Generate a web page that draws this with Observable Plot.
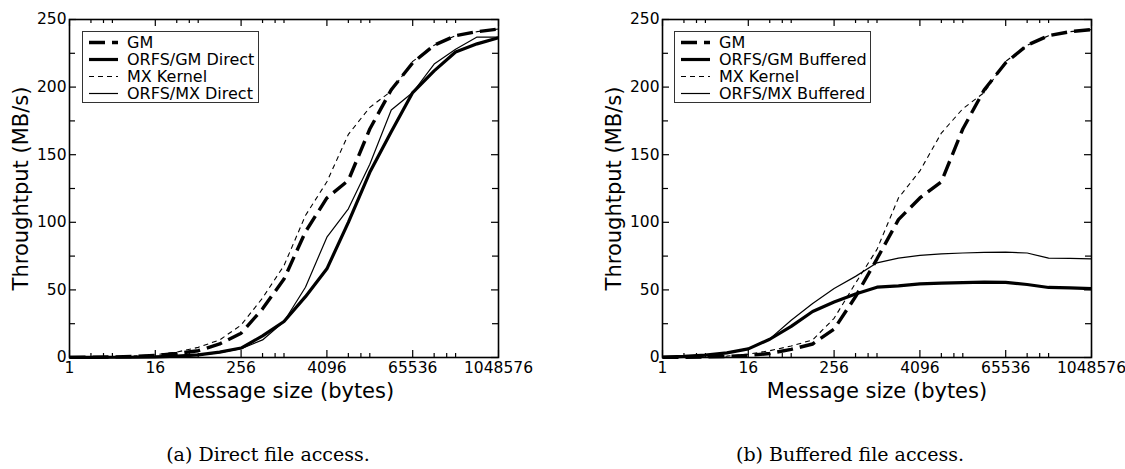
<!DOCTYPE html>
<html><head><meta charset="utf-8">
<script src="https://cdn.jsdelivr.net/npm/d3@7"></script>
<script src="https://cdn.jsdelivr.net/npm/@observablehq/plot@0.6"></script>
<style>
html,body{margin:0;padding:0;background:#fff;}
#root{position:relative;width:1125px;height:469px;overflow:hidden;background:#fff;}
.panel{position:absolute;top:0;}
.legend{position:absolute;box-sizing:border-box;border:1.4px solid #333;background:#fff;}
.caption{position:absolute;font-family:"DejaVu Serif";font-size:19px;top:443px;transform:translateX(-50%);white-space:nowrap;color:#000;}
svg g[aria-label="x-axis label"] text, svg g[aria-label="y-axis label"] text{font-size:21px;}
</style>
</head><body>
<div id="root"></div>
<script>
// ---- data ----
const sizes = [1,2,4,8,16,32,64,128,256,512,1024,2048,4096,8192,16384,32768,65536,131072,262144,524288,1048576];
const xTickValues = [1,16,256,4096,65536,1048576];
const yTickValues = [0,50,100,150,200,250];

// (a) Direct file access
const gmA      = [0.1,0.2,0.4,0.8,1.5,3,5,10,18,36,58,93,118,131,169,198,218,231,238,241,243];
const orfsGmA  = [0.1,0.1,0.2,0.3,0.5,1,2,4,7,16,26.6,45,65.6,100,137,167,196,212,226,232,236.5];
const mxA      = [0.1,0.3,0.6,1,2,4,7.5,13,24,44,68,105,130,165,185,197,219,231,238,241,243];
const orfsMxA  = [0.1,0.1,0.2,0.3,0.5,0.9,1.8,3.5,6.5,13,26.6,52,89,110,143,183,196,217,228,237,237];

// (b) Buffered file access
const gmB      = [0.1,0.2,0.4,0.8,1.5,3,6,10,21,45,73,102,118,130,169,198,218,231,238,241,242.5];
const orfsGmB  = [0.3,0.8,1.8,3.4,6.4,13.5,23,34,41,47,52,53,54.5,55,55.4,55.7,55.5,54,51.8,51.5,51];
const mxB      = [0.1,0.3,0.6,1,2.5,5,8.5,13,29,55,80,118,138,166,184,196,219,231,238,241,242.5];
const orfsMxB  = [0.3,0.8,1.8,3.4,6.4,13.8,27.5,40,51,60,70,73.5,75.5,76.7,77.3,77.7,77.9,77.3,73.5,73.3,73];

const seriesA = ["GM","ORFS/GM Direct","MX Kernel","ORFS/MX Direct"];
const seriesB = ["GM","ORFS/GM Buffered","MX Kernel","ORFS/MX Buffered"];
const captions = ["(a) Direct file access.","(b) Buffered file access."];

// ---- styles ----
const styles = [
  {strokeWidth: 3.4, dash: "16,7"},
  {strokeWidth: 3.2, dash: null},
  {strokeWidth: 1.1, dash: "5,4"},
  {strokeWidth: 1.2, dash: null}
];

const W = 562, H = 400, mL = 69, mR = 64, mT = 19, mB = 43;
const pw = W - mL - mR, ph = H - mT - mB;

const xMinor = [];
for (const b of [1,16,256,4096,65536]) for (const m of [2,3,4]) xMinor.push(b*m);
const yMinor = [25,75,125,175,225];

function panel(arrays) {
  const marks = [
    Plot.frame({stroke: "black", strokeWidth: 1.6}),
    Plot.tickX(xTickValues, {x: d => d, insetTop: ph - 7, stroke: "black", strokeWidth: 1.2}),
    Plot.tickX(xTickValues, {x: d => d, insetBottom: ph - 7, stroke: "black", strokeWidth: 1.2}),
    Plot.tickX(xMinor, {x: d => d, insetTop: ph - 4, stroke: "black", strokeWidth: 1.2}),
    Plot.tickX(xMinor, {x: d => d, insetBottom: ph - 4, stroke: "black", strokeWidth: 1.2}),
    Plot.tickY(yTickValues, {y: d => d, insetRight: pw - 7, stroke: "black", strokeWidth: 1.2}),
    Plot.tickY(yTickValues, {y: d => d, insetLeft: pw - 7, stroke: "black", strokeWidth: 1.2}),
    Plot.tickY(yMinor, {y: d => d, insetRight: pw - 6, stroke: "black", strokeWidth: 1.2}),
    Plot.tickY(yMinor, {y: d => d, insetLeft: pw - 6, stroke: "black", strokeWidth: 1.2}),
    Plot.axisX({ticks: xTickValues, tickSize: 0, tickPadding: 4, tickFormat: d => String(d),
      label: "Message size (bytes)", labelAnchor: "center", labelArrow: "none", labelOffset: 40}),
    Plot.axisY({ticks: yTickValues, tickSize: 0, tickPadding: 3,
      label: "Throughtput (MB/s)", labelAnchor: "center", labelArrow: "none", labelOffset: 56})
  ];
  arrays.forEach((arr, i) => {
    const data = sizes.map((s, j) => ({size: s, v: arr[j]}));
    marks.push(Plot.line(data, {x: "size", y: "v", stroke: "black",
      strokeWidth: styles[i].strokeWidth, strokeDasharray: styles[i].dash,
      strokeLinejoin: "miter", strokeLinecap: "butt"}));
  });
  return Plot.plot({
    width: W, height: H, marginLeft: mL, marginRight: mR, marginTop: mT, marginBottom: mB,
    x: {type: "log", base: 2, domain: [1, 1048576]},
    y: {domain: [0, 250]},
    style: {fontFamily: "DejaVu Sans", fontSize: "15.5px", color: "black", background: "white", overflow: "visible"},
    marks
  });
}

function legend(names, left, top, width) {
  const div = document.createElement("div");
  div.className = "legend";
  div.style.left = left + "px"; div.style.top = top + "px";
  div.style.width = width + "px"; div.style.height = "72px";
  const svg = d3.select(div).append("svg").attr("width", width).attr("height", 70)
    .style("position","absolute").style("left","0").style("top","0");
  names.forEach((n, i) => {
    const y = 10.5 + i * 17;
    svg.append("line").attr("x1", 6).attr("x2", 35).attr("y1", y).attr("y2", y)
      .attr("stroke", "black").attr("stroke-width", styles[i].strokeWidth)
      .attr("stroke-dasharray", styles[i].dash);
    svg.append("text").attr("x", 44).attr("y", y).attr("dy", "0.36em")
      .attr("font-family", "DejaVu Sans").attr("font-size", "16px").text(n);
  });
  return div;
}

const root = document.getElementById("root");
const pA = panel([gmA, orfsGmA, mxA, orfsMxA]);
pA.classList.add("panel"); pA.style.left = "0px";
root.appendChild(pA);
const pB = panel([gmB, orfsGmB, mxB, orfsMxB]);
pB.classList.add("panel"); pB.style.left = "593px";
root.appendChild(pB);

root.appendChild(legend(seriesA, 82, 31, 177));
root.appendChild(legend(seriesB, 674, 31, 197));

[[268, captions[0]], [850, captions[1]]].forEach(([cx, t]) => {
  const d = document.createElement("div");
  d.className = "caption"; d.style.left = cx + "px"; d.textContent = t;
  root.appendChild(d);
});
</script>
</body></html>
